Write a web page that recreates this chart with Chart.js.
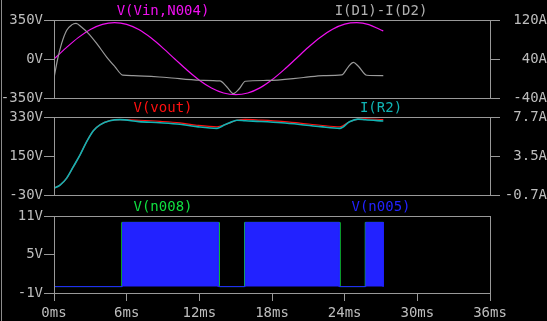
<!DOCTYPE html>
<html><head><meta charset="utf-8">
<script src="https://cdn.jsdelivr.net/npm/chart.js@4.4.1/dist/chart.umd.min.js"></script>
<style>
html,body{margin:0;padding:0;background:#000;width:547px;height:321px;overflow:hidden}
canvas{position:absolute;left:0;top:0}
#edge{position:absolute;left:1px;top:0;width:1px;height:321px;background:#8c8c8c}
</style></head><body>
<div id="edge"></div>
<canvas id="c1" width="547" height="321"></canvas>
<canvas id="c2" width="547" height="321"></canvas>
<canvas id="c3" width="547" height="321"></canvas>
<script>
// ---- data (time in ms) ----
const timeTicks = [0, 6, 12, 18, 24, 30, 36];
const timeTickLabels = ['0ms', '6ms', '12ms', '18ms', '24ms', '30ms', '36ms'];

// Pane 1: V(Vin,N004) [V] and I(D1)-I(D2) [A]
const vinTimes  = [0,1,2,3,4,5,6,7,8,9,10,11,12,13,14,15,16,17,18,19,20,21,22,23,24,25,26,27,27.19];
const vinValues = [0,100,192,265,311,326,311,264,190,98,-2,-101,-190,-260,-305,-320,-305,-259,-186,-95,5,105,195,267,313,326,309,260,252];
const dTimes  = [0,0.3,0.63,1.05,1.46,1.82,2.29,2.83,3.52,4.35,5.04,5.67,6.55,9.3,12.06,13.7,14.26,14.8,15.3,15.8,17.56,20.6,22.24,23.76,24.3,24.72,25.13,25.82,27.19];
const dValues = [1,40,72,99,110,113,105,92.6,72,44,24,7,6,2,-3.6,-5,-17,-31,-21,-5.7,-4,2,6,7.3,24,33,25,6.7,6];
const p1LeftTicks = [-350, 0, 350];
const p1LeftLabels = ['-350V', '0V', '350V'];
const p1RightTicks = [-40, 40, 120];
const p1RightLabels = ['-40A', '40A', '120A'];

// Pane 2: V(vout) [V] and I(R2) [A]
const voutTimes  = [0,0.5,1.05,1.6,2.15,2.7,3.25,3.8,4.6,5.45,7.0,8.75,10.4,11.8,13.46,14.1,14.5,15.1,15.8,17.0,18.8,20.3,22.0,23.6,24.4,25.1,25.7,27.19];
const voutValues = [1,16,48,101,155,217,267,294,313,318,315,310,303,292,285,294,303,315,319,316,310,302,292,285,308,320,322,318];
const ir2Values  = [0.02,0.37,1.12,2.36,3.62,5.06,6.23,6.86,7.30,7.42,7.20,7.08,6.92,6.66,6.48,6.86,7.07,7.35,7.29,7.22,7.08,6.90,6.66,6.48,7.19,7.47,7.40,7.27];
const p2LeftTicks = [-30, 150, 330];
const p2LeftLabels = ['-30V', '150V', '330V'];
const p2RightTicks = [-0.7, 3.5, 7.7];
const p2RightLabels = ['-0.7A', '3.5A', '7.7A'];

// Pane 3: V(n008), V(n005) [V]
const n005Times  = [0,0.03,5.66,5.66,13.55,13.55,15.79,15.79,23.54,23.54,25.75,25.75,27.18,27.18];
const n005Values = [10,0,0,10,10,0,0,10,10,0,0,10,10,0];
const n008Times  = [0,5.6,5.6,13.62,13.62,15.74,15.74,23.6,23.6,25.7,25.7,27.22];
const n008Values = [0,0,10,10,0,0,10,10,0,0,10,10];
const p3LeftTicks = [-1, 5, 11];
const p3LeftLabels = ['-1V', '5V', '11V'];

const paneTitles = [['V(Vin,N004)', 'I(D1)-I(D2)'], ['V(vout)', 'I(R2)'], ['V(n008)', 'V(n005)']];

// ---- styling ----
const MONO = "'DejaVu Sans Mono', 'Liberation Mono', monospace";
const AXIS = '#999999';
const TXT = '#bdbdbd';
const C = {mag:'#f010f0', gray:'#9a9a9a', red:'#ff1010', teal:'#10b4b4', green:'#10e040', blue:'#2222ff'};

const pts = (ts, vs) => ts.map((t, i) => ({x: t, y: vs[i]}));

function yScale(pos, min, max, vals, labels) {
  return {
    type: 'linear', position: pos, min: min, max: max,
    afterBuildTicks: s => { s.ticks = vals.map(v => ({value: v})); },
    afterFit: s => { s.width = pos === 'left' ? 54 : 57; },
    grid: {drawOnChartArea: false, drawTicks: true, tickLength: 10, color: AXIS, lineWidth: 1},
    border: {display: false},
    ticks: {color: TXT, font: {family: MONO, size: 14}, padding: pos === 'left' ? 1 : 3,
            crossAlign: pos === 'left' ? 'near' : 'far', autoSkip: false, maxRotation: 0,
            callback: (v, i) => labels[i]}
  };
}
function xScale(show) {
  const s = {
    type: 'linear', position: 'bottom', min: 0, max: 36, display: show,
    afterBuildTicks: s => { s.ticks = timeTicks.map(v => ({value: v})); },
    grid: {drawOnChartArea: false, drawTicks: true, tickLength: 8, color: AXIS, lineWidth: 1},
    border: {display: false},
    ticks: {color: TXT, font: {family: MONO, size: 14}, padding: 4, autoSkip: false, maxRotation: 0,
            callback: (v, i) => timeTickLabels[i]}
  };
  if (show) s.afterFit = sc => { sc.height = 28; };
  return s;
}
function framePlugin(titles, colors) {
  return {
    id: 'frame',
    afterDraw(chart) {
      const a = chart.chartArea, ctx = chart.ctx;
      ctx.save();
      ctx.strokeStyle = AXIS; ctx.lineWidth = 1;
      const l = Math.round(a.left) + 0.5, t = Math.round(a.top) + 0.5;
      ctx.strokeRect(l, t, Math.round(a.right) - Math.round(a.left), Math.round(a.bottom) - Math.round(a.top));
      ctx.font = '14px ' + MONO; ctx.textAlign = 'center'; ctx.textBaseline = 'middle';
      const w = a.right - a.left;
      ctx.fillStyle = colors[0]; ctx.fillText(titles[0], a.left + w / 4, a.top - 9);
      ctx.fillStyle = colors[1]; ctx.fillText(titles[1], a.left + 3 * w / 4, a.top - 9);
      ctx.restore();
    }
  };
}
function line(data, color, axis, width, extra) {
  return Object.assign({data: data, borderColor: color, backgroundColor: color, borderWidth: width,
    pointRadius: 0, yAxisID: axis, cubicInterpolationMode: 'monotone', fill: false}, extra || {});
}
const base = {responsive: false, animation: false, devicePixelRatio: 1, parsing: true,
  plugins: {legend: {display: false}, tooltip: {enabled: false}}, events: []};

new Chart(document.getElementById('c1'), {
  type: 'line',
  data: {datasets: [
    line(pts(dTimes, dValues), C.gray, 'yR', 1.2),
    line(pts(vinTimes, vinValues), C.mag, 'yL', 1.2)
  ]},
  options: Object.assign({}, base, {
    layout: {padding: {top: 20, bottom: 223, left: 0, right: 0}},
    scales: {x: xScale(false), yL: yScale('left', -350, 350, p1LeftTicks, p1LeftLabels),
             yR: yScale('right', -40, 120, p1RightTicks, p1RightLabels)}
  }),
  plugins: [framePlugin(paneTitles[0], [C.mag, '#b0b0b0'])]
});

new Chart(document.getElementById('c2'), {
  type: 'line',
  data: {datasets: [
    line(pts(voutTimes, ir2Values), C.teal, 'yR', 1.6),
    line(pts(voutTimes, voutValues), C.red, 'yL', 1.2)
  ]},
  options: Object.assign({}, base, {
    layout: {padding: {top: 117, bottom: 126, left: 0, right: 0}},
    scales: {x: xScale(false), yL: yScale('left', -30, 330, p2LeftTicks, p2LeftLabels),
             yR: yScale('right', -0.7, 7.7, p2RightTicks, p2RightLabels)}
  }),
  plugins: [framePlugin(paneTitles[1], [C.red, C.teal])]
});

new Chart(document.getElementById('c3'), {
  type: 'line',
  data: {datasets: [
    line(pts(n005Times, n005Values), C.blue, 'yL', 1, {tension: 0, cubicInterpolationMode: 'default', fill: 'origin'}),
    line(pts(n008Times, n008Values), C.green, 'yL', 1, {tension: 0, cubicInterpolationMode: 'default'})
  ]},
  options: Object.assign({}, base, {
    layout: {padding: {top: 216, bottom: 0, left: 0, right: 57}},
    scales: {x: xScale(true), yL: yScale('left', -1, 11, p3LeftTicks, p3LeftLabels)}
  }),
  plugins: [framePlugin(paneTitles[2], [C.green, C.blue])]
});
</script>
</body></html>
